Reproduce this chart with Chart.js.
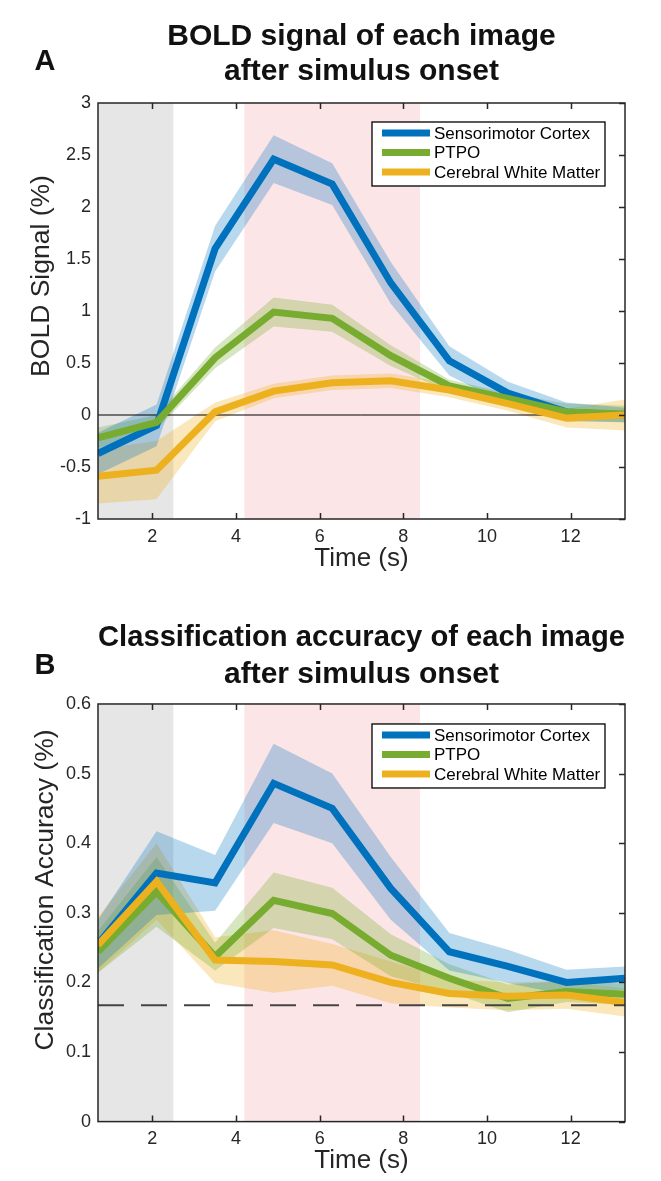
<!DOCTYPE html>
<html lang="en">
<head>
  <meta charset="UTF-8" />
  <title>BOLD signal and classification accuracy after stimulus onset</title>
  <script src="https://cdn.jsdelivr.net/npm/chart.js"></script>
  <style>
    body { margin: 0; background: #fff; }
    .panel { position: absolute; left: 0; width: 661px; }
    #panelA { top: 0; height: 590px; }
    #panelB { top: 600px; height: 581px; }
  </style>
</head>
<body>
  <div class="panel" id="panelA"><canvas id="boldChart"></canvas></div>
  <div class="panel" id="panelB"><canvas id="accChart"></canvas></div>

  <script>
    // time axis (s), one sample per TR
    const timePoints = [0.7, 2.1, 3.5, 4.9, 6.3, 7.7, 9.1, 10.5, 11.9, 13.3];
    const xTicks = [2, 4, 6, 8, 10, 12];
    const seriesNames = ['Sensorimotor Cortex', 'PTPO', 'Cerebral White Matter'];

    // shaded windows (s)
    const baselineWindow = [0.7, 2.5];
    const peakWindow = [4.2, 8.4];

    // panel A: BOLD signal (%)
    const boldSensorimotor    = [-0.37, -0.10, 1.60, 2.46, 2.22, 1.27, 0.52, 0.21, 0.03, 0.00];
    const boldSensorimotorErr = [0.20, 0.20, 0.22, 0.23, 0.20, 0.20, 0.14, 0.11, 0.09, 0.07];
    const boldPTPO            = [-0.22, -0.07, 0.55, 0.99, 0.93, 0.57, 0.28, 0.16, 0.03, 0.01];
    const boldPTPOErr         = [0.10, 0.07, 0.10, 0.14, 0.13, 0.10, 0.06, 0.05, 0.08, 0.08];
    const boldWhite           = [-0.59, -0.53, 0.03, 0.23, 0.31, 0.33, 0.24, 0.11, -0.03, 0.00];
    const boldWhiteErr        = [0.26, 0.28, 0.09, 0.07, 0.07, 0.07, 0.07, 0.07, 0.09, 0.15];
    const boldYTicks = [-1, -0.5, 0, 0.5, 1, 1.5, 2, 2.5, 3];

    // panel B: classification accuracy
    const accSensorimotor    = [0.255, 0.357, 0.343, 0.486, 0.450, 0.335, 0.244, 0.223, 0.200, 0.206];
    const accSensorimotorErr = [0.035, 0.060, 0.040, 0.057, 0.050, 0.045, 0.027, 0.024, 0.018, 0.017];
    const accPTPO            = [0.244, 0.330, 0.237, 0.318, 0.299, 0.239, 0.206, 0.177, 0.187, 0.183];
    const accPTPOErr         = [0.030, 0.050, 0.020, 0.040, 0.037, 0.030, 0.020, 0.020, 0.015, 0.015];
    const accWhite           = [0.254, 0.345, 0.232, 0.230, 0.225, 0.200, 0.184, 0.180, 0.182, 0.171];
    const accWhiteErr        = [0.040, 0.055, 0.033, 0.045, 0.030, 0.030, 0.020, 0.020, 0.020, 0.020];
    const accYTicks = [0, 0.1, 0.2, 0.3, 0.4, 0.5, 0.6];
    const chanceLevel = 0.167;

    const lineColors = ['#0072BD', '#77AC30', '#EDB120'];
    const bandColors = ['rgba(0,114,189,0.28)', 'rgba(119,172,48,0.3)', 'rgba(237,177,32,0.3)'];
    const FONT = "'Liberation Sans', Arial, Helvetica, sans-serif";
    const INK = '#262626';

    Chart.defaults.font.family = FONT;
    Chart.defaults.animation = false;

    const pts = (vals) => timePoints.map((t, i) => ({ x: t, y: vals[i] }));

    // grey / pink windows behind everything
    const windowsPlugin = {
      id: 'windows',
      beforeDatasetsDraw(chart) {
        const { ctx, chartArea: a, scales: { x } } = chart;
        ctx.save();
        ctx.fillStyle = '#e6e6e6';
        ctx.fillRect(x.getPixelForValue(baselineWindow[0]), a.top,
          x.getPixelForValue(baselineWindow[1]) - x.getPixelForValue(baselineWindow[0]), a.bottom - a.top);
        ctx.fillStyle = '#fce5e6';
        ctx.fillRect(x.getPixelForValue(peakWindow[0]), a.top,
          x.getPixelForValue(peakWindow[1]) - x.getPixelForValue(peakWindow[0]), a.bottom - a.top);
        ctx.restore();
      }
    };

    // matlab style box with inward ticks, y label, legend and panel letter
    const framePlugin = {
      id: 'frame',
      afterDatasetsDraw(chart) {
        const { ctx, chartArea: a, scales: { x, y } } = chart;
        ctx.save();
        ctx.strokeStyle = INK;
        ctx.lineWidth = 1.5;
        ctx.strokeRect(a.left, a.top, a.right - a.left, a.bottom - a.top);
        ctx.beginPath();
        x.ticks.forEach(t => {
          const px = Math.round(x.getPixelForValue(t.value)) + 0.5;
          ctx.moveTo(px, a.bottom); ctx.lineTo(px, a.bottom - 6);
          ctx.moveTo(px, a.top); ctx.lineTo(px, a.top + 6);
        });
        y.ticks.forEach(t => {
          const py = Math.round(y.getPixelForValue(t.value)) + 0.5;
          ctx.moveTo(a.right, py); ctx.lineTo(a.right - 6, py);
        });
        ctx.stroke();
        ctx.restore();
      },
      afterDraw(chart, args, opts) {
        const { ctx, chartArea: a } = chart;
        ctx.save();
        // panel letter
        ctx.fillStyle = '#111';
        ctx.font = 'bold 29px ' + FONT;
        ctx.textAlign = 'center';
        ctx.textBaseline = 'middle';
        ctx.fillText(opts.letter, 45, opts.letterY);

        // y axis label
        ctx.save();
        ctx.translate(opts.yTitleX, opts.yTitleY);
        ctx.rotate(-Math.PI / 2);
        ctx.fillStyle = INK;
        ctx.font = '26.5px ' + FONT;
        ctx.fillText(opts.yTitle, 0, 0);
        ctx.restore();

        // legend
        const bx = a.left + 274, by = a.top + opts.legendTop, bw = 233, bh = 64;
        ctx.fillStyle = '#fff';
        ctx.fillRect(bx, by, bw, bh);
        ctx.strokeStyle = '#000';
        ctx.lineWidth = 1.3;
        ctx.strokeRect(bx, by, bw, bh);
        ctx.font = '17px ' + FONT;
        ctx.textAlign = 'left';
        seriesNames.forEach((name, i) => {
          const ry = by + 11 + i * 19.5;
          ctx.strokeStyle = lineColors[i];
          ctx.lineWidth = 7;
          ctx.beginPath();
          ctx.moveTo(bx + 10, ry); ctx.lineTo(bx + 58, ry);
          ctx.stroke();
          ctx.fillStyle = '#000';
          ctx.fillText(name, bx + 62, ry + 1);
        });
        ctx.restore();
      }
    };

    function makeChart(canvasId, cfg) {
      const datasets = [];
      cfg.series.forEach((vals, s) => {
        const err = cfg.errors[s];
        datasets.push({
          label: seriesNames[s] + ' upper',
          data: pts(vals.map((v, i) => v + err[i])),
          borderWidth: 0, pointRadius: 0, fill: '+1',
          backgroundColor: bandColors[s], order: 10, clip: 0
        });
        datasets.push({
          label: seriesNames[s] + ' lower',
          data: pts(vals.map((v, i) => v - err[i])),
          borderWidth: 0, pointRadius: 0, fill: false, order: 10, clip: 0
        });
      });
      datasets.push({
        label: 'reference',
        data: [{ x: timePoints[0], y: cfg.refValue }, { x: timePoints[timePoints.length - 1], y: cfg.refValue }],
        borderColor: cfg.refColor, borderWidth: cfg.refWidth, borderDash: cfg.refDash,
        pointRadius: 0, fill: false, order: cfg.refOrder, clip: 0
      });
      cfg.series.forEach((vals, s) => {
        datasets.push({
          label: seriesNames[s],
          data: pts(vals),
          borderColor: lineColors[s], borderWidth: 7,
          pointRadius: 0, fill: false, order: 3 - s, clip: 0
        });
      });

      return new Chart(document.getElementById(canvasId), {
        type: 'line',
        data: { datasets },
        plugins: [windowsPlugin, framePlugin],
        options: {
          responsive: true,
          maintainAspectRatio: false,
          layout: { padding: { left: 0, right: 36, top: 0, bottom: 0 } },
          plugins: {
            legend: { display: false },
            tooltip: { enabled: false },
            title: {
              display: true,
              fullSize: false,
              text: cfg.title,
              color: '#111',
              font: { size: 30, weight: 'bold', lineHeight: cfg.titleLineHeight },
              padding: cfg.titlePadding
            },
            frame: {
              letter: cfg.letter, letterY: cfg.letterY, legendTop: cfg.legendTop,
              yTitle: cfg.yTitle, yTitleX: cfg.yTitleX, yTitleY: cfg.yTitleY
            }
          },
          scales: {
            x: {
              type: 'linear',
              min: timePoints[0],
              max: timePoints[timePoints.length - 1],
              afterBuildTicks: sc => { sc.ticks = xTicks.map(v => ({ value: v })); },
              afterFit: sc => { sc.height = cfg.xAxisHeight; },
              grid: { display: false, drawTicks: false },
              border: { display: false },
              ticks: { color: INK, font: { size: 18 }, padding: 7, maxRotation: 0, autoSkip: false,
                       callback: v => String(v) },
              title: { display: true, text: 'Time (s)', color: INK, font: { size: 26 },
                       padding: { top: 0, bottom: cfg.xTitleBottom } }
            },
            y: {
              type: 'linear',
              min: cfg.yTicks[0],
              max: cfg.yTicks[cfg.yTicks.length - 1],
              afterBuildTicks: sc => { sc.ticks = cfg.yTicks.map(v => ({ value: v })); },
              afterFit: sc => { sc.width = 98; },
              grid: { display: false, drawTicks: false },
              border: { display: false },
              ticks: { color: INK, font: { size: 18 }, padding: 7, callback: v => String(v) }
            }
          }
        }
      });
    }

    makeChart('boldChart', {
      title: ['BOLD signal of each image', 'after simulus onset'],
      titleLineHeight: 1.16,
      titlePadding: { top: 19.6, bottom: 13.8 },
      letter: 'A', letterY: 62, legendTop: 19,
      series: [boldSensorimotor, boldPTPO, boldWhite],
      errors: [boldSensorimotorErr, boldPTPOErr, boldWhiteErr],
      yTicks: boldYTicks,
      yTitle: 'BOLD Signal (%)', yTitleX: 42, yTitleY: 276,
      refValue: 0, refColor: '#000', refWidth: 1, refDash: [], refOrder: 5,
      xAxisHeight: 71, xTitleBottom: 16
    });

    makeChart('accChart', {
      title: ['Classification accuracy of each image', 'after simulus onset'],
      titleLineHeight: 1.233,
      titlePadding: { top: 19.5, bottom: 10.5 },
      letter: 'B', letterY: 66, legendTop: 20,
      series: [accSensorimotor, accPTPO, accWhite],
      errors: [accSensorimotorErr, accPTPOErr, accWhiteErr],
      yTicks: accYTicks,
      yTitle: 'Classification Accuracy (%)', yTitleX: 46, yTitleY: 290,
      refValue: chanceLevel, refColor: '#444', refWidth: 2, refDash: [26, 17], refOrder: 0,
      xAxisHeight: 59.4, xTitleBottom: 5
    });
  </script>
</body>
</html>
